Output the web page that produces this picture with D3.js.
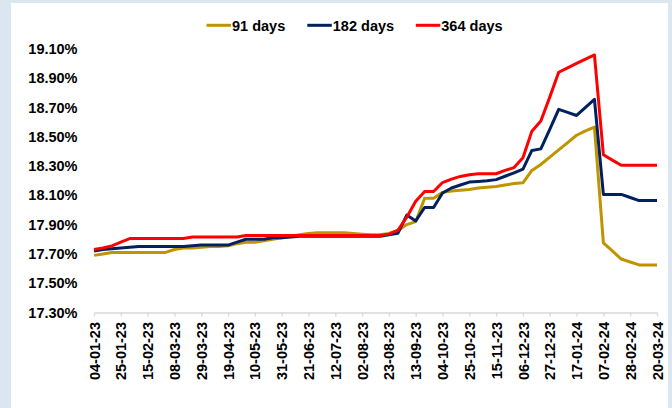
<!DOCTYPE html>
<html>
<head>
<meta charset="utf-8">
<script src="https://cdn.jsdelivr.net/npm/d3@7"></script>
<style>
  html, body { margin: 0; padding: 0; background: #dce6f1; }
  svg { display: block; }
  text { font-family: "Liberation Sans", Arial, sans-serif; font-weight: bold; fill: #000; }
</style>
</head>
<body>
<svg id="chart" width="672" height="408"></svg>
<script>
// Weekly T-bill cut-off yields (%), first auction 04-01-23, last 20-03-24
const tickLabels = ["04-01-23","25-01-23","15-02-23","08-03-23","29-03-23","19-04-23",
  "10-05-23","31-05-23","21-06-23","12-07-23","02-08-23","23-08-23","13-09-23","04-10-23",
  "25-10-23","15-11-23","06-12-23","27-12-23","17-01-24","07-02-24","28-02-24","20-03-24"];

const seriesNames = ["91 days", "182 days", "364 days"];

const days91 = [17.69,17.70,17.71,17.71,17.71,17.71,17.71,17.71,17.71,17.73,
  17.74,17.74,17.745,17.75,17.75,17.755,17.77,17.78,17.78,17.79,
  17.80,17.81,17.82,17.83,17.84,17.845,17.845,17.845,17.845,17.84,
  17.835,17.83,17.83,17.84,17.86,17.90,17.92,18.08,18.08,18.12,
  18.13,18.135,18.14,18.15,18.155,18.16,18.17,18.18,18.185,18.27,
  18.31,18.36,18.41,18.46,18.51,18.54,18.565,17.775,17.72,17.665,
  17.645,17.625,17.625,17.625];

const days182 = [17.72,17.73,17.735,17.74,17.745,17.75,17.75,17.75,17.75,17.75,
  17.75,17.755,17.76,17.76,17.76,17.76,17.78,17.80,17.80,17.80,
  17.81,17.81,17.815,17.82,17.82,17.82,17.82,17.82,17.82,17.82,
  17.82,17.82,17.82,17.83,17.84,17.965,17.925,18.017,18.017,18.116,
  18.15,18.17,18.19,18.195,18.20,18.207,18.23,18.253,18.278,18.406,
  18.417,18.55,18.687,18.666,18.645,18.70,18.755,18.106,18.106,18.106,
  18.085,18.064,18.064,18.064];

const days364 = [17.73,17.74,17.755,17.78,17.805,17.805,17.805,17.805,17.805,17.805,
  17.805,17.815,17.815,17.815,17.815,17.815,17.815,17.825,17.825,17.825,
  17.825,17.825,17.825,17.825,17.825,17.825,17.825,17.825,17.825,17.825,
  17.825,17.825,17.825,17.835,17.86,17.95,18.06,18.126,18.126,18.187,
  18.21,18.229,18.24,18.247,18.247,18.247,18.27,18.289,18.356,18.538,
  18.607,18.77,18.94,18.97,19.00,19.03,19.058,18.377,18.34,18.305,
  18.305,18.305,18.305,18.305];

const yTicks = [17.3,17.5,17.7,17.9,18.1,18.3,18.5,18.7,18.9,19.1];
const colors = ["#C09400", "#002060", "#FF0000"];

const svg = d3.select("#chart");

// white chart panel
svg.append("rect").attr("x", 11).attr("y", 3).attr("width", 657).attr("height", 405)
  .attr("fill", "#ffffff");

const n = days91.length;
const x = d3.scaleLinear().domain([0, n - 1]).range([94, 657]);
const y = d3.scaleLinear().domain([17.3, 19.1]).range([312.5, 48.8]);

// y labels only (no axis line, no gridlines)
const yAxis = d3.axisLeft(y).tickValues(yTicks).tickSize(0).tickPadding(16.5)
  .tickFormat(d => d.toFixed(2) + "%");
const gy = svg.append("g").attr("transform", "translate(94,0)").call(yAxis);
gy.select(".domain").remove();
gy.selectAll("text").attr("font-size", "14.5px").attr("font-family", null);

// category axis: a label every third week
const tickIdx = tickLabels.map((_, k) => k * 3);
const xAxis = d3.axisBottom(x).tickValues(tickIdx).tickSize(4).tickSizeOuter(0)
  .tickFormat((d, k) => tickLabels[k]);
const gx = svg.append("g").attr("transform", "translate(0,312.5)").call(xAxis);
gx.select(".domain").attr("stroke", "#d9d9d9").attr("stroke-width", 1.3);
gx.selectAll(".tick line").attr("stroke", "#d9d9d9").attr("stroke-width", 1.3);
gx.selectAll("text")
  .attr("font-size", "14.5px").attr("font-family", null)
  .attr("text-anchor", "end")
  .attr("transform", "rotate(-90)")
  .attr("x", -9.5).attr("y", 0).attr("dy", "0.35em");

// series lines
const line = d3.line().x((d, i) => x(i)).y(d => y(d));
[days91, days182, days364].forEach((vals, s) => {
  svg.append("path").datum(vals)
    .attr("fill", "none")
    .attr("stroke", colors[s])
    .attr("stroke-width", 3)
    .attr("stroke-linejoin", "round")
    .attr("d", line);
});

// legend
const legendX = [206.5, 307.3, 415.8];
const leg = svg.append("g");
seriesNames.forEach((name, s) => {
  const g = leg.append("g").attr("transform", `translate(${legendX[s]},25.3)`);
  g.append("line").attr("x1", 0).attr("x2", 24.5).attr("y1", 0).attr("y2", 0)
    .attr("stroke", colors[s]).attr("stroke-width", 3);
  g.append("text").attr("x", 25.5).attr("dy", "0.36em").attr("font-size", "14.5px").text(name);
});
</script>
</body>
</html>
